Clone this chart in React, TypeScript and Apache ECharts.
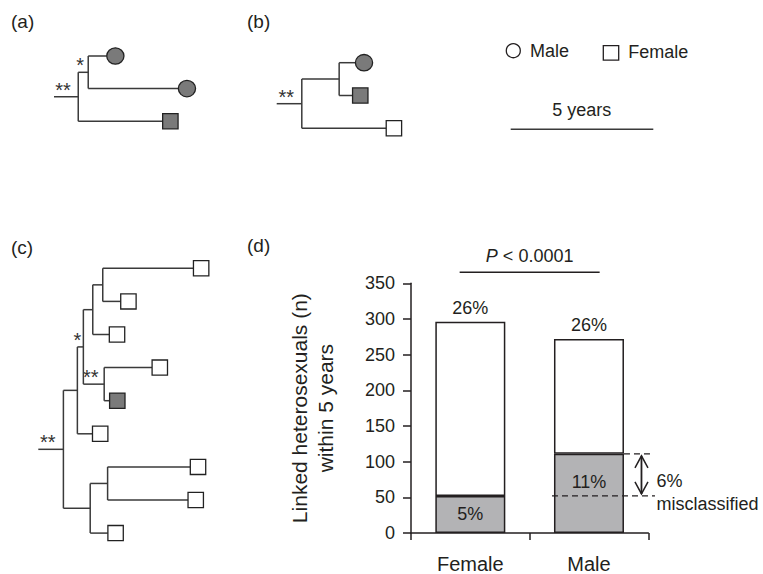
import React, { useEffect, useRef } from 'react';
import * as echarts from 'echarts';

// ---- Bar chart data (panel d) ----
const groups = ['Female', 'Male'];
const linkedTotal = [296, 272];
const linkedGrey = [52, 111];
const totalPctLabels = ['26%', '26%'];
const greyPctLabels = ['5%', '11%'];
const yMin = 0;
const yMax = 350;
const yStep = 50;
const misclassifiedLines = ['6%', 'misclassified'];
const pValue = '0.0001';

// ---- Tree data (branch lengths in years) ----
type TNode = { t: number; children?: TNode[]; sex?: 'M' | 'F'; grey?: boolean; support?: string };

const treeA: TNode = {
  t: 0.85, support: '**', children: [
    { t: 0.35, support: '*', children: [ { t: 0.65, sex: 'M', grey: true }, { t: 3.16, sex: 'M', grey: true } ] },
    { t: 2.96, sex: 'F', grey: true },
  ],
};
const treeB: TNode = {
  t: 0.88, support: '**', children: [
    { t: 1.31, children: [ { t: 0.57, sex: 'M', grey: true }, { t: 0.47, sex: 'F', grey: true } ] },
    { t: 2.96, sex: 'F', grey: false },
  ],
};
const treeC: TNode = {
  t: 0.88, support: '**', children: [
    { t: 0.49, children: [
      { t: 0.21, support: '*', children: [
        { t: 0.33, children: [
          { t: 0.35, children: [ { t: 3.18, sex: 'F' }, { t: 0.63, sex: 'F' } ] },
          { t: 0.58, sex: 'F' },
        ] },
        { t: 0.73, support: '**', children: [ { t: 1.68, sex: 'F' }, { t: 0.19, sex: 'F', grey: true } ] },
      ] },
      { t: 0.53, sex: 'F' },
    ] },
    { t: 0.94, children: [
      { t: 0.61, children: [ { t: 2.9, sex: 'F' }, { t: 2.82, sex: 'F' } ] },
      { t: 0.62, sex: 'F' },
    ] },
  ],
};
const scaleBarYears = 5;
const legendItems = ['Male', 'Female'];

const FONT = '"Liberation Sans", Arial, Helvetica, sans-serif';
const INK = '#231f20';
const LINE = '#3a3a3a';
const TREE_GREY = '#7a7a7a';
const BAR_GREY = '#b3b3b5';
const PX_PER_YEAR = 28.52;

function buildTree(tree: TNode, originX: number, topY: number, spacing: number): any[] {
  const els: any[] = [];
  let leafIdx = 0;
  const line = (x1: number, y1: number, x2: number, y2: number) =>
    els.push({ type: 'line', shape: { x1, y1, x2, y2 }, style: { stroke: LINE, lineWidth: 1.5 }, silent: true });
  const rec = (node: TNode, parentX: number): number => {
    const x = parentX + node.t * PX_PER_YEAR;
    if (!node.children) {
      const y = topY + spacing * leafIdx++;
      line(parentX, y, x, y);
      const fill = node.grey ? TREE_GREY : '#ffffff';
      if (node.sex === 'M') {
        els.push({ type: 'ellipse', shape: { cx: x + 8.6, cy: y, rx: 8.6, ry: 8.2 }, style: { fill, stroke: '#222', lineWidth: 1.3 }, z: 5 });
      } else {
        els.push({ type: 'rect', shape: { x, y: y - 7.6, width: 15.4, height: 15.2 }, style: { fill, stroke: '#222', lineWidth: 1.3 }, z: 5 });
      }
      return y;
    }
    const ys = node.children.map((c) => rec(c, x));
    const y0 = ys[0];
    const y1 = ys[ys.length - 1];
    const y = (y0 + y1) / 2;
    line(x, y0, x, y1);
    line(parentX, y, x, y);
    if (node.support) {
      els.push({
        type: 'text', x: (parentX + x) / 2 - 3, y: y - 7,
        style: { text: node.support, fontSize: 20, fontFamily: FONT, fill: '#333', align: 'center', verticalAlign: 'middle' },
      });
    }
    return y;
  };
  rec(tree, originX);
  return els;
}

function panelLabel(text: string, x: number, y: number) {
  return { type: 'text', x, y, style: { text, fontSize: 19, fontFamily: FONT, fill: INK, align: 'left', verticalAlign: 'middle' } };
}

export default function App() {
  const ref = useRef<HTMLDivElement>(null);
  useEffect(() => {
    if (!ref.current) return;
    const chart = echarts.init(ref.current, undefined, { renderer: 'svg' });
    const topValues = linkedTotal.map((v, i) => v - linkedGrey[i]);
    chart.setOption({
      animation: false,
      backgroundColor: '#ffffff',
      grid: { left: 411, top: 283.3, width: 237.3, height: 250 },
      xAxis: {
        type: 'category', data: groups,
        axisLine: { lineStyle: { color: INK, width: 1.5 } },
        axisTick: { show: true, length: 7, lineStyle: { color: INK, width: 1.5 } },
        axisLabel: { color: INK, fontSize: 20, fontFamily: FONT, margin: 21 },
      },
      yAxis: {
        type: 'value', min: yMin, max: yMax, interval: yStep,
        name: 'Linked heterosexuals (n)\nwithin 5 years',
        nameLocation: 'middle', nameGap: 73,
        nameTextStyle: { color: INK, fontSize: 21, fontFamily: FONT, lineHeight: 26 },
        axisLine: { show: true, lineStyle: { color: INK, width: 1.5 } },
        axisTick: { show: true, length: 8, lineStyle: { color: INK, width: 1.5 } },
        axisLabel: { color: INK, fontSize: 18, fontFamily: FONT, margin: 16 },
        splitLine: { show: false },
      },
      series: [
        {
          type: 'bar', stack: 'total', barWidth: 70,
          data: linkedGrey.map((v, i) => ({
            value: v,
            label: { show: true, position: 'inside', offset: i === 1 ? [0, -11] : [0, 0], formatter: greyPctLabels[i] },
          })),
          itemStyle: { color: BAR_GREY, borderColor: INK, borderWidth: 1.5 },
          label: { color: INK, fontSize: 18, fontFamily: FONT },
        },
        {
          type: 'bar', stack: 'total', barWidth: 70,
          data: topValues,
          itemStyle: { color: '#ffffff', borderColor: INK, borderWidth: 1.5 },
          label: {
            show: true, position: 'top', distance: 5, color: INK, fontSize: 18, fontFamily: FONT,
            formatter: (p: any) => totalPctLabels[p.dataIndex],
          },
        },
      ],
    });

    const xF = chart.convertToPixel({ xAxisIndex: 0 }, 0) as number;
    const xM = chart.convertToPixel({ xAxisIndex: 0 }, 1) as number;
    const yTop = chart.convertToPixel({ yAxisIndex: 0 }, yMax) as number;
    const yHi = chart.convertToPixel({ yAxisIndex: 0 }, linkedGrey[1]) as number;
    const yLo = chart.convertToPixel({ yAxisIndex: 0 }, linkedGrey[0]) as number;
    const ax = xM + 52.5;
    const midX = (xF + xM) / 2;

    const graphics: any[] = [
      panelLabel('(a)', 11, 21),
      panelLabel('(b)', 247, 21),
      panelLabel('(c)', 11, 247),
      panelLabel('(d)', 247, 245),
      ...buildTree(treeA, 54, 56, 32.6),
      ...buildTree(treeB, 276.7, 62.7, 32.8),
      ...buildTree(treeC, 38.3, 268.3, 33.1),
      // legend
      { type: 'circle', shape: { cx: 513.3, cy: 50.7, r: 7 }, style: { fill: '#fff', stroke: INK, lineWidth: 1.3 } },
      { type: 'text', x: 530, y: 50.5, style: { text: legendItems[0], fontSize: 18, fontFamily: FONT, fill: INK, align: 'left', verticalAlign: 'middle' } },
      { type: 'rect', shape: { x: 603.3, y: 45.7, width: 15.4, height: 14.4 }, style: { fill: '#fff', stroke: INK, lineWidth: 1.3 } },
      { type: 'text', x: 628.3, y: 52, style: { text: legendItems[1], fontSize: 18, fontFamily: FONT, fill: INK, align: 'left', verticalAlign: 'middle' } },
      // scale bar
      { type: 'text', x: 581.7, y: 110, style: { text: `${scaleBarYears} years`, fontSize: 18, fontFamily: FONT, fill: INK, align: 'center', verticalAlign: 'middle' } },
      { type: 'line', shape: { x1: 510.7, y1: 129.3, x2: 510.7 + scaleBarYears * PX_PER_YEAR, y2: 129.3 }, style: { stroke: LINE, lineWidth: 1.5 } },
      // p-value bracket
      {
        type: 'text', x: midX, y: yTop - 27,
        style: {
          text: '{i|P} < ' + pValue, fontSize: 18, fontFamily: FONT, fill: INK, align: 'center', verticalAlign: 'middle',
          rich: { i: { fontStyle: 'italic', fontSize: 18, fontFamily: FONT, fill: INK } },
        },
      },
      { type: 'line', shape: { x1: midX - 70, y1: yTop - 11, x2: midX + 70, y2: yTop - 11 }, style: { stroke: INK, lineWidth: 1.5 } },
      // misclassification markers
      { type: 'line', shape: { x1: xM + 35, y1: yHi, x2: xM + 63, y2: yHi }, style: { stroke: INK, lineWidth: 1.3, lineDash: [6, 4] }, z: 10 },
      { type: 'line', shape: { x1: xM - 37, y1: yLo, x2: xM + 66, y2: yLo }, style: { stroke: INK, lineWidth: 1.3, lineDash: [6, 4] }, z: 10 },
      { type: 'line', shape: { x1: ax, y1: yHi + 2, x2: ax, y2: yLo - 2 }, style: { stroke: INK, lineWidth: 1.8 }, z: 10 },
      { type: 'polyline', shape: { points: [[ax - 6.5, yHi + 14], [ax, yHi + 2], [ax + 6.5, yHi + 14]] }, style: { stroke: INK, lineWidth: 1.5, fill: 'none' }, z: 10 },
      { type: 'polyline', shape: { points: [[ax - 6.5, yLo - 14], [ax, yLo - 2], [ax + 6.5, yLo - 14]] }, style: { stroke: INK, lineWidth: 1.5, fill: 'none' }, z: 10 },
      { type: 'text', x: xM + 67.5, y: yLo - 15, style: { text: misclassifiedLines[0], fontSize: 18, fontFamily: FONT, fill: INK, align: 'left', verticalAlign: 'middle' } },
      { type: 'text', x: xM + 67.5, y: yLo + 8, style: { text: misclassifiedLines[1], fontSize: 18, fontFamily: FONT, fill: INK, align: 'left', verticalAlign: 'middle' } },
    ];
    chart.setOption({ graphic: graphics });
    return () => chart.dispose();
  }, []);
  return <div ref={ref} style={{ position: 'fixed', left: 0, top: 0, width: 763, height: 574 }} />;
}
